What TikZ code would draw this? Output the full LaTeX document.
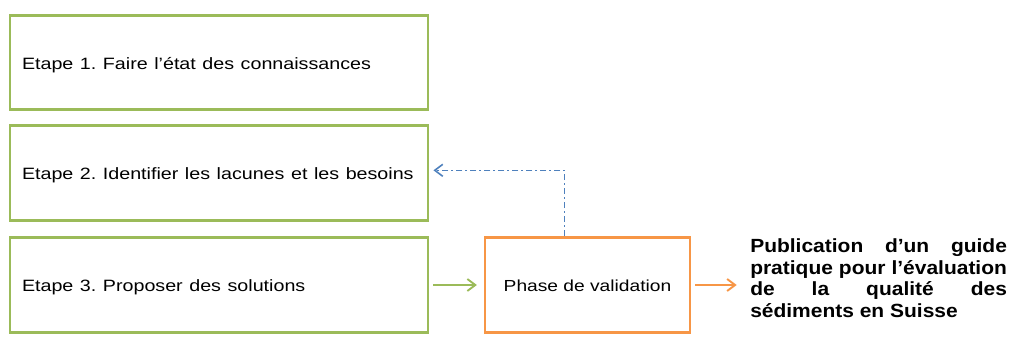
\documentclass[tikz,border=0pt]{standalone}
\usepackage{fontspec}
\setmainfont{Liberation Sans}
\usetikzlibrary{arrows.meta,calc}
\definecolor{vert}{HTML}{9BBB59}
\definecolor{orng}{HTML}{F79646}
\definecolor{bleu}{HTML}{4F81BD}
\newcommand{\widetxt}[1]{\raisebox{0pt}[10.5pt][0pt]{\scalebox{1.2}[1]{#1}}}
\frenchspacing
\begin{document}
\begin{tikzpicture}[x=0.75pt,y=-0.75pt,
  etapebox/.style={draw=vert,line width=2.2pt,minimum width=313.5pt,minimum height=71pt,
    text width=295.5pt,inner xsep=9pt,align=left,font=\fontsize{12.3}{14}\selectfont},
  valbox/.style={draw=orng,line width=2.2pt,minimum width=153.75pt,minimum height=71pt,
    font=\fontsize{12}{14}\selectfont},
  conn/.style={line width=1.4pt,-{Straight Barb[length=6pt,width=9pt]}}]
\useasboundingbox (0,0) rectangle (1011,338);
\node[etapebox] (e1) at (219,62.5) {\widetxt{Etape 1. Faire l’état des connaissances}};
\node[etapebox] (e2) at (219,173) {\widetxt{Etape 2. Identifier les lacunes et les besoins}};
\node[etapebox] (e3) at (219,285) {\widetxt{Etape 3. Proposer des solutions}};
\node[valbox] (val) at (587.5,285) {\widetxt{Phase de validation}};
\node[anchor=north west,inner sep=0] (pub) at (750,238.5)
  {\scalebox{1.1}[1]{\parbox[t]{175pt}{\hyphenpenalty=10000\exhyphenpenalty=10000\bfseries\fontsize{14.3}{16.2}\selectfont Publication d’un guide pratique pour l’évaluation de la qualité des sédiments en Suisse}}};
\draw[conn,bleu,line width=1.2pt,dash pattern=on 5pt off 2pt on 1.5pt off 2pt]
  ($(val.north west)!0.39!(val.north east)$) |- ([xshift=3pt,yshift=2pt]e2.east);
\draw[conn,vert] ([xshift=3pt]e3.east) -- ([xshift=-5pt]val.west);
\draw[conn,orng] ([xshift=3pt]val.east) -- ([xshift=-10pt]val.east -| pub.west);
\end{tikzpicture}
\end{document}
